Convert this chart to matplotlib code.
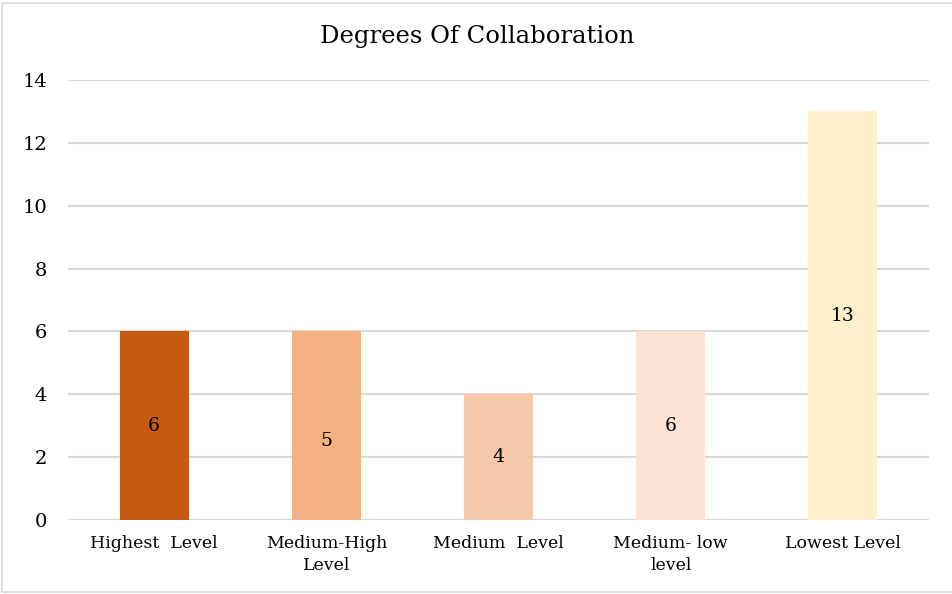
import matplotlib
matplotlib.use("Agg")
import matplotlib.pyplot as plt
from matplotlib.patches import Rectangle

categories = ["Highest  Level", "Medium-High\nLevel", "Medium  Level", "Medium- low\nlevel", "Lowest Level"]
bar_heights = [6, 6, 4, 6, 13]
label_values = [6, 5, 4, 6, 13]
colors = ["#C55A11", "#F4B183", "#F7C9AA", "#FAE3D5", "#FFF0CC"]
yticks = [0, 2, 4, 6, 8, 10, 12, 14]
title = "Degrees Of Collaboration"

plt.rcParams['font.family'] = ['DejaVu Serif']

W, H = 953, 594
fig = plt.figure(figsize=(W / 100, H / 100), dpi=100)
ax = fig.add_axes([68 / W, (H - 520) / H, (929 - 68) / W, (520 - 80) / H])

x = list(range(len(categories)))
ax.bar(x, bar_heights, width=0.4, color=colors, zorder=3)
for xi, lv in zip(x, label_values):
    ax.text(xi, lv / 2, str(lv), ha="center", va="center", fontsize=13.5, color="#000000", zorder=4)

ax.set_xlim(-0.5, len(categories) - 0.5)
ax.set_ylim(0, 14)
ax.set_yticks(yticks)
ax.set_yticklabels([str(t) for t in yticks], fontsize=14)
ax.set_xticks(x)
ax.set_xticklabels(categories, fontsize=12.5, linespacing=1.4)
ax.tick_params(axis="both", length=0)
ax.tick_params(axis="y", pad=15)
ax.tick_params(axis="x", pad=11)
ax.grid(axis="y", color="#D9D9D9", linewidth=1.5, zorder=0)
for s in ax.spines.values():
    s.set_visible(False)

fig.text(477 / W, 1 - 37 / H, title, ha="center", va="center", fontsize=17.5)

fig.patches.append(Rectangle((2.5 / W, 2.5 / H), (W + 5) / W, (H - 5) / H, transform=fig.transFigure,
                             fill=False, edgecolor="#D9D9D9", linewidth=1.2))

fig.savefig("out.png", dpi=100)
